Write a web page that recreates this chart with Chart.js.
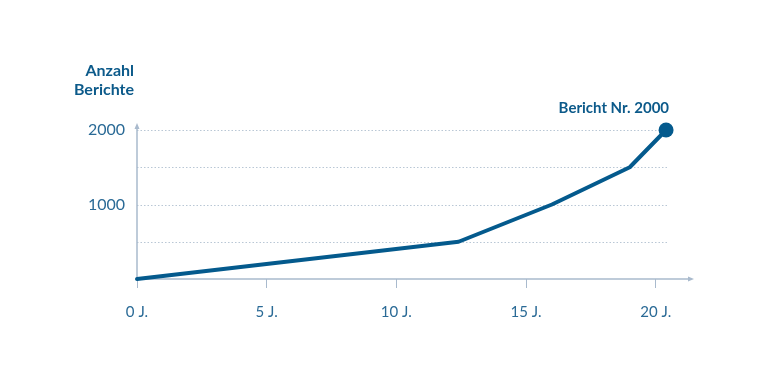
<!DOCTYPE html>
<html><head><meta charset="utf-8">
<script src="https://cdn.jsdelivr.net/npm/chart.js@4/dist/chart.umd.min.js"></script>
<style>html,body{margin:0;padding:0;background:#fff}#w{width:768px;height:384px}</style>
</head><body><div id="w"><canvas id="c" width="768" height="384"></canvas></div>
<script>
const years = [0, 12.4, 16, 19, 20.4];
const counts = [0, 500, 1000, 1500, 2000];
const xTicks = [0, 5, 10, 15, 20];
const yTicks = [500, 1000, 1500, 2000];
const yLabelled = [1000, 2000];
const yTitle = ['Anzahl', 'Berichte'];
const pointLabel = 'Bericht Nr. 2000';
const gridEnd = 20.5;

const LINE = '#045a8d', TXT = '#2a6a96', TITLE = '#0c5a8a', AXIS = '#a9bacd', GRID = '#b9c7d5';
const FONT = 'Lato, "Open Sans", sans-serif';

const deco = {
  id: 'deco',
  beforeDatasetsDraw(chart) {
    const {ctx, chartArea: a, scales: {x, y}} = chart;
    ctx.save();
    ctx.strokeStyle = GRID; ctx.lineWidth = 1; ctx.setLineDash([1.5, 2]);
    const xe = x.getPixelForValue(gridEnd);
    yTicks.forEach(v => {
      const py = Math.round(y.getPixelForValue(v)) + 0.5;
      ctx.beginPath(); ctx.moveTo(a.left, py); ctx.lineTo(xe, py); ctx.stroke();
    });
    ctx.setLineDash([]);
    ctx.strokeStyle = AXIS; ctx.fillStyle = AXIS; ctx.lineWidth = 1.5;
    const bx = a.left, by = a.bottom;
    ctx.beginPath(); ctx.moveTo(bx, by); ctx.lineTo(bx, a.top - 3); ctx.stroke();
    ctx.beginPath(); ctx.moveTo(bx, a.top - 7); ctx.lineTo(bx - 2.5, a.top - 1); ctx.lineTo(bx + 2.5, a.top - 1); ctx.closePath(); ctx.fill();
    ctx.beginPath(); ctx.moveTo(bx, by); ctx.lineTo(a.right - 3, by); ctx.stroke();
    ctx.beginPath(); ctx.moveTo(a.right + 2, by); ctx.lineTo(a.right - 4, by - 2.5); ctx.lineTo(a.right - 4, by + 2.5); ctx.closePath(); ctx.fill();
    ctx.restore();
  },
  afterDatasetsDraw(chart) {
    const {ctx} = chart;
    const meta = chart.getDatasetMeta(0);
    const last = meta.data[meta.data.length - 1];
    ctx.save();
    ctx.fillStyle = TITLE;
    ctx.font = 'bold 15px ' + FONT;
    ctx.textAlign = 'right'; ctx.textBaseline = 'alphabetic';
    ctx.fillText(pointLabel, last.x + 3, last.y - 17);
    ctx.font = 'bold 16px ' + FONT;
    ctx.fillText(yTitle[0], 134, 76);
    ctx.fillText(yTitle[1], 134, 95);
    ctx.restore();
  }
};

new Chart(document.getElementById('c'), {
  type: 'line',
  data: {
    datasets: [{
      data: years.map((v, i) => ({x: v, y: counts[i]})),
      borderColor: LINE, backgroundColor: LINE, borderWidth: 4,
      pointRadius: years.map((v, i) => i === years.length - 1 ? 7.5 : 0),
      pointBackgroundColor: LINE, pointBorderWidth: 0,
      tension: 0, borderJoinStyle: 'round', borderCapStyle: 'round', clip: false
    }]
  },
  options: {
    responsive: false, animation: false, devicePixelRatio: 1,
    layout: {padding: {top: 130, right: 76, left: 0, bottom: 0}},
    plugins: {legend: {display: false}, tooltip: {enabled: false}},
    scales: {
      x: {
        type: 'linear', min: 0, max: 21.4,
        border: {display: false},
        grid: {drawOnChartArea: false, drawTicks: true, tickLength: 9, color: AXIS, lineWidth: 1},
        afterBuildTicks: s => { s.ticks = xTicks.map(v => ({value: v})); },
        afterFit: s => { s.height = 105; },
        ticks: {padding: 15, color: TXT, font: {family: FONT, size: 15}, callback: v => v + ' J.', maxRotation: 0}
      },
      y: {
        type: 'linear', min: 0, max: 2000,
        border: {display: false},
        grid: {display: false, drawTicks: false},
        afterBuildTicks: s => { s.ticks = yTicks.map(v => ({value: v})); },
        afterFit: s => { s.width = 137; },
        ticks: {padding: 12, color: TXT, font: {family: FONT, size: 16}, callback: v => yLabelled.includes(v) ? String(v) : ''}
      }
    }
  },
  plugins: [deco]
});
</script></body></html>
